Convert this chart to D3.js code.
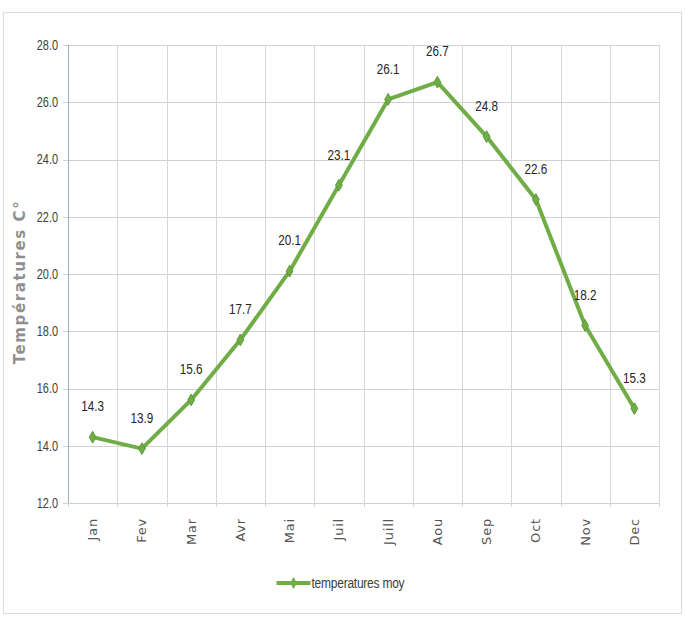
<!DOCTYPE html>
<html>
<head>
<meta charset="utf-8">
<script src="https://cdn.jsdelivr.net/npm/d3@7"></script>
<style>
html,body{margin:0;padding:0;background:#fff;}
svg{display:block;}
</style>
</head>
<body>
<script>
const months = ["Jan","Fev","Mar","Avr","Mai","Juil","Juill","Aou","Sep","Oct","Nov","Dec"];
const temperatures = [14.3,13.9,15.6,17.7,20.1,23.1,26.1,26.7,24.8,22.6,18.2,15.3];
const yTicks = [12,14,16,18,20,22,24,26,28];
const seriesName = "temperatures moy";
const yTitle = "Températures  C°";

const W = 685, H = 619;
const m = {left:68, right:26, top:45, bottom:116};
const lib = "'Liberation Sans',Arial,sans-serif";
const wide = "'DejaVu Sans',Verdana,sans-serif";
const green = "#70AD47";
const SX = 0.78;

const svg = d3.select("body").append("svg").attr("width", W).attr("height", H);

// outer frame
svg.append("rect").attr("x",3.5).attr("y",12.5).attr("width",W-7).attr("height",H-18)
  .attr("fill","#fff").attr("stroke","#dcdcdc").attr("stroke-width",1);

const x = d3.scaleBand().domain(months).range([m.left, W - m.right]);
const y = d3.scaleLinear().domain([12,28]).range([H - m.bottom, m.top]);

// horizontal grid
svg.append("g").selectAll("line").data(yTicks).join("line")
  .attr("x1", m.left - 5).attr("x2", W - m.right)
  .attr("y1", d => Math.round(y(d)) + 0.5).attr("y2", d => Math.round(y(d)) + 0.5)
  .attr("stroke","#d0d0d0").attr("stroke-width",1);

// vertical grid
const vLines = months.map(d => x(d) + x.bandwidth()).concat([m.left]);
svg.append("g").selectAll("line").data(vLines).join("line")
  .attr("x1", d => Math.round(d) + 0.5).attr("x2", d => Math.round(d) + 0.5)
  .attr("y1", m.top).attr("y2", H - m.bottom + 4)
  .attr("stroke","#d6d6d6").attr("stroke-width",1);

// left axis line
svg.append("line").attr("x1", m.left + 0.5).attr("x2", m.left + 0.5)
  .attr("y1", m.top).attr("y2", H - m.bottom)
  .attr("stroke","#a9b4be").attr("stroke-width",1.2);

// y tick labels
svg.append("g").selectAll("text").data(yTicks).join("text")
  .attr("transform", d => `translate(${m.left - 10},${y(d)}) scale(${SX},1)`)
  .attr("dy","0.35em")
  .attr("text-anchor","end").attr("font-family", lib).attr("font-size",14)
  .attr("fill","#404040").text(d => d.toFixed(1));

// x tick labels (rotated)
svg.append("g").selectAll("text").data(months).join("text")
  .attr("transform", d => `translate(${x(d) + x.bandwidth()/2},${H - m.bottom + 15}) rotate(-90)`)
  .attr("text-anchor","end").attr("dy","0.35em")
  .attr("font-family", wide).attr("font-size",13).attr("letter-spacing","0.8px")
  .attr("fill","#555").text(d => d);

// y axis title
svg.append("text")
  .attr("transform", `translate(20,${(m.top + H - m.bottom)/2 + 8}) rotate(-90)`)
  .attr("text-anchor","middle").attr("dy","0.35em")
  .attr("font-family", wide).attr("font-size",15)
  .attr("font-weight","bold").attr("fill","#8f8f8f").attr("letter-spacing","1.6px")
  .text(yTitle);

const cx = (d,i) => x(months[i]) + x.bandwidth()/2;

// line
const line = d3.line().x((d,i) => cx(d,i)).y(d => y(d));
svg.append("path").datum(temperatures).attr("d", line)
  .attr("fill","none").attr("stroke", green).attr("stroke-width",4)
  .attr("stroke-linejoin","round");

// markers
svg.append("g").selectAll("path").data(temperatures).join("path")
  .attr("transform", (d,i) => `translate(${cx(d,i)},${y(d)})`)
  .attr("d", d3.symbol(d3.symbolDiamond, 40))
  .attr("fill", green).attr("stroke","#5f9a3a").attr("stroke-width",1);

// data labels
svg.append("g").selectAll("text").data(temperatures).join("text")
  .attr("transform", (d,i) => `translate(${cx(d,i)},${y(d) - 31}) scale(${SX},1)`)
  .attr("dy","0.35em")
  .attr("text-anchor","middle").attr("font-family", lib).attr("font-size",15)
  .attr("fill","#262626").text(d => d.toFixed(1));

// legend
const lg = svg.append("g").attr("transform", `translate(${W/2 - 66},583)`);
lg.append("line").attr("x1",0).attr("x2",34).attr("y1",0).attr("y2",0)
  .attr("stroke", green).attr("stroke-width",4);
lg.append("path").attr("transform","translate(17,0)")
  .attr("d", d3.symbol(d3.symbolDiamond, 40)).attr("fill", green);
lg.append("text").attr("transform","translate(35,0) scale(0.8,1)").attr("dy","0.35em")
  .attr("font-family", lib).attr("font-size",15).attr("fill","#404040")
  .attr("letter-spacing","-0.3px").text(seriesName);
</script>
</body>
</html>
